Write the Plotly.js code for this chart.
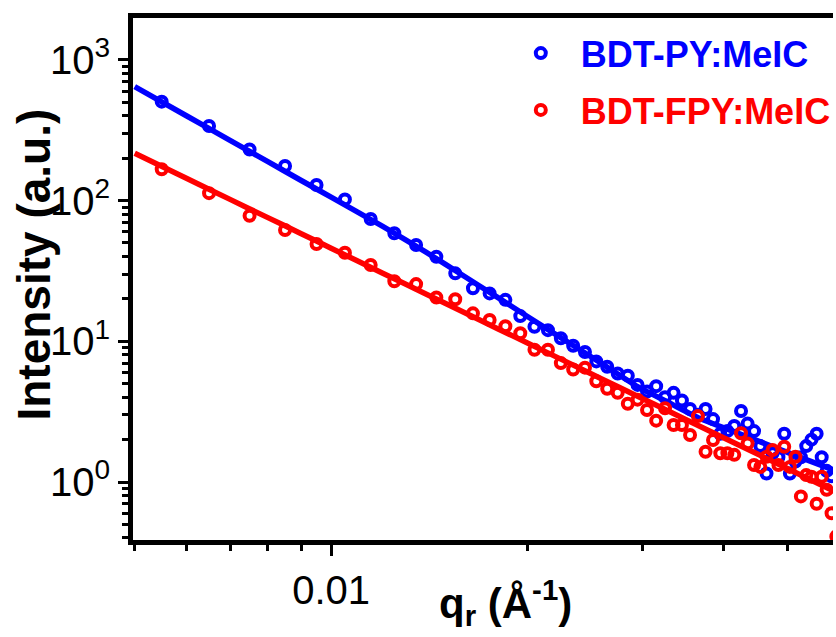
<!DOCTYPE html>
<html><head><meta charset="utf-8">
<script src="https://cdn.plot.ly/plotly-3.0.1.min.js"></script>
<style>html,body{margin:0;padding:0;background:#fff}#chart{width:836px;height:637px}</style>
</head><body><div id="chart"></div>
<script>
// ---- data ----
const qBlue = [0.0055,0.0065,0.0075,0.0085,0.0095,0.0105,0.0115,0.0125,0.0135,0.0145,0.0155,0.0165,0.0175,0.0185,0.0195,0.0205,0.0215,0.0225,0.0235,0.0245,0.0255,0.0265,0.0275,0.0285,0.0295,0.0305,0.0315,0.0325,0.0335,0.0345,0.0355,0.0365,0.0375,0.0385,0.0395,0.0405,0.0415,0.0425,0.0435,0.0445,0.0455,0.0465,0.0475,0.0485,0.0495,0.0505,0.0515,0.0525,0.0535,0.0545,0.0555,0.0565,0.0575,0.0585];
const iBlue = [505,339,231,176,129,102,74,58.6,48.4,39.9,30.4,23.8,21.9,19.7,15.1,12.7,12.0,10.5,9.3,8.4,7.2,6.6,5.9,5.7,4.9,4.4,4.8,4.0,4.3,3.8,3.3,3.0,3.3,2.8,2.2,2.3,2.5,3.2,2.6,2.3,1.8,1.15,1.6,1.5,2.2,1.15,1.4,1.5,1.8,2.0,2.2,1.5,1.2,1.1];
const qRed = [0.0055,0.0065,0.0075,0.0085,0.0095,0.0105,0.0115,0.0125,0.0135,0.0145,0.0155,0.0165,0.0175,0.0185,0.0195,0.0205,0.0215,0.0225,0.0235,0.0245,0.0255,0.0265,0.0275,0.0285,0.0295,0.0305,0.0315,0.0325,0.0335,0.0345,0.0355,0.0365,0.0375,0.0385,0.0395,0.0405,0.0415,0.0425,0.0435,0.0445,0.0455,0.0465,0.0475,0.0485,0.0495,0.0505,0.0515,0.0525,0.0535,0.0545,0.0555,0.0565,0.0575,0.0585,0.0595];
const iRed = [167,113,78,61.8,49.2,42.6,34.9,26.7,25.5,20.5,19.9,15.8,14.2,12.8,11.4,8.7,8.7,7.0,6.3,6.5,5.2,4.6,4.3,3.6,3.85,3.25,2.73,3.34,2.54,2.54,2.16,2.94,1.64,1.99,1.60,1.60,1.56,2.22,1.88,1.32,1.28,1.51,1.69,1.32,1.78,1.28,1.51,0.79,1.12,1.09,0.70,1.09,0.88,0.60,0.41];
const qFit = [0.005,0.006,0.007,0.008,0.009,0.010,0.012,0.014,0.016,0.018,0.020,0.023,0.026,0.0295,0.033,0.0366,0.042,0.048,0.054,0.060];
const fitBlue = [645,401,268,189,139,105.7,65.6,42.8,29.0,20.5,15.0,9.96,6.94,4.76,3.65,2.85,2.23,1.75,1.42,1.18];
const fitRed = [217,144,102,75.7,58.2,45.9,30.5,21.6,16.0,12.3,9.72,7.11,5.40,4.07,3.17,2.51,1.85,1.37,1.05,0.83];
const seriesNames = ['BDT-PY:MeIC','BDT-FPY:MeIC'];
const xTickVals = [0.01];
const xTickText = ['0.01'];
const xMinorVals = [0.005,0.006,0.007,0.008,0.009,0.02,0.03,0.04,0.05];
const yTickVals = [1,10,100,1000];
const yTickText = ['10<sup>0</sup>','10<sup>1</sup>','10<sup>2</sup>','10<sup>3</sup>'];
const yMinorVals = [0.4,0.5,0.6,0.7,0.8,0.9,2,3,4,5,6,7,8,9,20,30,40,50,60,70,80,90,200,300,400,500,600,700,800,900];
const xTitle = '<b>q<sub>r</sub> (Å<sup>-1</sup>)</b>';
const yTitle = '<b>Intensity (a.u.)</b>';

const BLUE = '#0000ff', RED = '#ff0000';
const FONT = 'Liberation Sans, Arial, sans-serif';

const traces = [
  {x: qBlue, y: iBlue, type: 'scatter', mode: 'markers', legendgroup: 'a',
   name: '\u00A0\u00A0<span style="color:' + BLUE + '"><b>' + seriesNames[0] + '</b></span>',
   marker: {symbol: 'circle-open', size: 10, color: BLUE, line: {width: 4, color: BLUE}}},
  {x: qFit, y: fitBlue, type: 'scatter', mode: 'lines', showlegend: false, legendgroup: 'a',
   line: {color: BLUE, width: 5.5, shape: 'spline', smoothing: 0.6}},
  {x: qRed, y: iRed, type: 'scatter', mode: 'markers', legendgroup: 'b',
   name: '\u00A0\u00A0<span style="color:' + RED + '"><b>' + seriesNames[1] + '</b></span>',
   marker: {symbol: 'circle-open', size: 10, color: RED, line: {width: 4, color: RED}}},
  {x: qFit, y: fitRed, type: 'scatter', mode: 'lines', showlegend: false, legendgroup: 'b',
   line: {color: RED, width: 5.5, shape: 'spline', smoothing: 0.6}}
];

const layout = {
  width: 836, height: 637,
  paper_bgcolor: '#fff', plot_bgcolor: '#fff',
  margin: {l: 133, r: 0, t: 18, b: 97},
  font: {family: FONT, color: '#000'},
  showlegend: true,
  legend: {x: 0.554, y: 0.99, xanchor: 'left', yanchor: 'top',
           bgcolor: 'rgba(255,255,255,0)', font: {size: 36, family: FONT},
           traceorder: 'grouped', tracegroupgap: 7},
  xaxis: {type: 'log', range: [Math.log10(0.00497), Math.log10(0.0588)],
          tickmode: 'array', tickvals: xTickVals, ticktext: xTickText,
          ticks: 'outside', ticklen: 11, tickwidth: 3, tickcolor: '#000',
          showline: true, linewidth: 5, linecolor: '#000', mirror: true,
          showgrid: false, zeroline: false,
          tickfont: {size: 40, family: FONT},
          minor: {tickmode: 'array', tickvals: xMinorVals, ticks: 'outside', ticklen: 6, tickwidth: 3, tickcolor: '#000', showgrid: false}},
  yaxis: {type: 'log', range: [-0.4122, 3.2978],
          tickmode: 'array', tickvals: yTickVals, ticktext: yTickText,
          ticks: 'outside', ticklen: 10, tickwidth: 3, tickcolor: '#000',
          showline: true, linewidth: 5, linecolor: '#000', mirror: false,
          showgrid: false, zeroline: false,
          tickfont: {size: 40, family: FONT},
          minor: {tickmode: 'array', tickvals: yMinorVals, ticks: 'outside', ticklen: 6, tickwidth: 3, tickcolor: '#000', showgrid: false}},
  annotations: [
    {text: xTitle, xref: 'paper', yref: 'paper', x: 0.532, y: -0.12, xanchor: 'center', yanchor: 'middle',
     showarrow: false, font: {size: 42, family: FONT, color: '#000'}},
    {text: yTitle, xref: 'paper', yref: 'paper', x: -0.142, y: 0.527, xanchor: 'center', yanchor: 'middle',
     textangle: -90, showarrow: false, font: {size: 46, family: FONT, color: '#000'}}
  ]
};

Plotly.newPlot('chart', traces, layout, {displayModeBar: false, staticPlot: true});
</script>
</body></html>
